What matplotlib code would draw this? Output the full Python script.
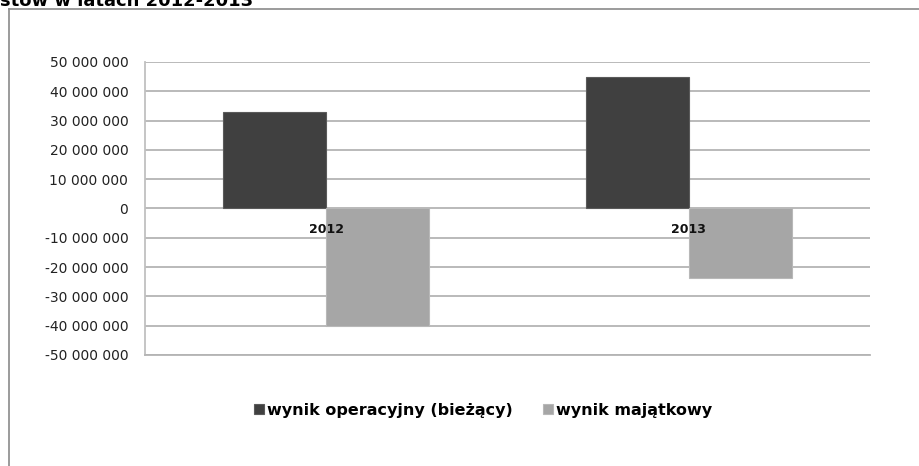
import matplotlib.pyplot as plt
from matplotlib.lines import Line2D
import numpy as np

# Data
years = ["2012", "2013"]
operacyjny = [33000000, 45000000]
majatkowy = [-40000000, -23700000]
series_names = ["wynik operacyjny (bieżący)", "wynik majątkowy"]
yticks = np.arange(-50000000, 50000001, 10000000)

W, H = 919, 466
fig = plt.figure(figsize=(W / 100, H / 100), dpi=100)
ax = fig.add_axes([145 / W, 1 - 355 / H, 725 / W, 293 / H])

x = np.arange(len(years))
width = 0.284
ax.bar(x - width / 2, operacyjny, width, color="#404040", edgecolor="#5a5a5a",
       linewidth=0.8, label=series_names[0], zorder=3)
ax.bar(x + width / 2, majatkowy, width, color="#a6a6a6", edgecolor="#b8b8b8",
       linewidth=0.8, label=series_names[1], zorder=3)

ax.set_xlim(-0.5, 1.5)
ax.set_ylim(-50000000, 50000000)
ax.set_yticks(yticks)
ax.set_yticklabels([f"{v:,}".replace(",", " ") for v in yticks],
                   fontsize=10, color="#222222")
ax.tick_params(axis="y", length=0, pad=12)
ax.set_xticks([])
ax.grid(axis="y", color="#b4b4b4", linewidth=1.3, zorder=0)

for s in ["top", "right"]:
    ax.spines[s].set_visible(False)
ax.spines["left"].set_color("#c0c0c0")
ax.spines["left"].set_linewidth(1.3)
ax.spines["bottom"].set_color("#b4b4b4")
ax.spines["bottom"].set_linewidth(1.3)

# category labels just below the zero line
for xi, yr in zip(x, years):
    ax.annotate(yr, (xi, 0), xytext=(0, -20), textcoords="offset points",
                ha="center", va="bottom", fontsize=9, fontweight="bold",
                color="#111111")

leg = fig.legend(loc="center", bbox_to_anchor=(483 / W, 1 - 410 / H),
                 ncol=2, frameon=False, handlelength=0.6, handleheight=0.6,
                 handletextpad=0.2, columnspacing=1.9,
                 prop={"size": 11.5, "weight": "bold"})

# outer chart frame (cropped)
fig.add_artist(Line2D([8.5 / W, 8.5 / W], [0, 1 - 9 / H], color="#8a8a8a",
                      linewidth=1.2, transform=fig.transFigure))
fig.add_artist(Line2D([8.5 / W, 1], [1 - 9 / H, 1 - 9 / H], color="#8a8a8a",
                      linewidth=1.2, transform=fig.transFigure))

# cut-off title line from the page above
fig.text(0.0, 1 - 5.5 / H, "stów w latach 2012-2013", fontsize=13,
         fontweight="bold", ha="left", va="baseline")

fig.savefig("out.png", dpi=100)
